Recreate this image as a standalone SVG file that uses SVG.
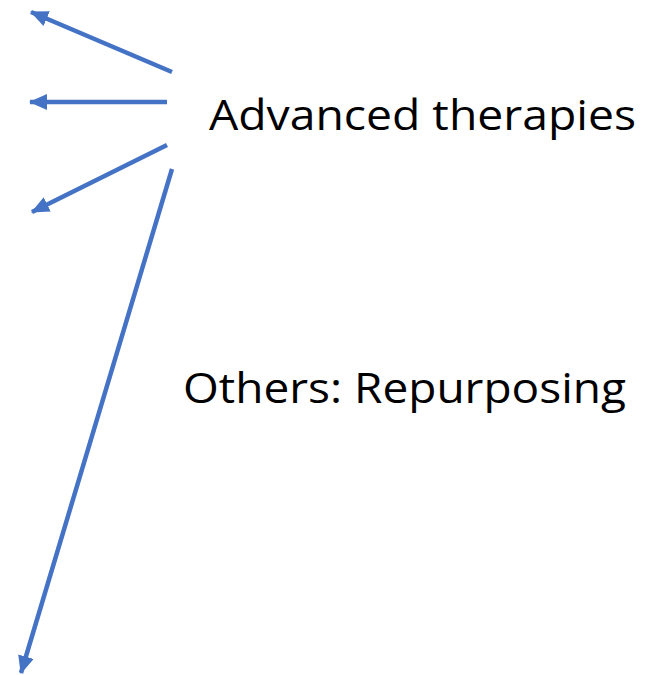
<svg xmlns="http://www.w3.org/2000/svg" width="664" height="675" viewBox="0 0 664 675">
<style>
.c{stroke:#4472C4;stroke-width:4.5;fill:none}
.t{font-family:"Open Sans","Liberation Sans",Arial,sans-serif;font-size:42px;fill:#000}
</style>
<defs>
<marker id="ah" markerUnits="userSpaceOnUse" markerWidth="18" markerHeight="16" refX="17" refY="8" orient="auto">
<path d="M0,0 L18,8 L0,16 Z" fill="#4472C4"/>
</marker>
</defs>
<rect width="664" height="675" fill="#fff"/>
<g id="connectors">
<line class="c" x1="172" y1="72" x2="31" y2="12" marker-end="url(#ah)"/>
<line class="c" x1="167" y1="102" x2="30" y2="102" marker-end="url(#ah)"/>
<line class="c" x1="167" y1="145" x2="32" y2="212" marker-end="url(#ah)"/>
<line class="c" x1="172" y1="169" x2="21" y2="673" marker-end="url(#ah)"/>
</g>
<g id="advanced"><text class="t" x="209" y="130" textLength="427" lengthAdjust="spacingAndGlyphs">Advanced therapies</text></g>
<g id="others"><text class="t" x="183" y="403" textLength="443" lengthAdjust="spacingAndGlyphs">Others: Repurposing</text></g>
</svg>
